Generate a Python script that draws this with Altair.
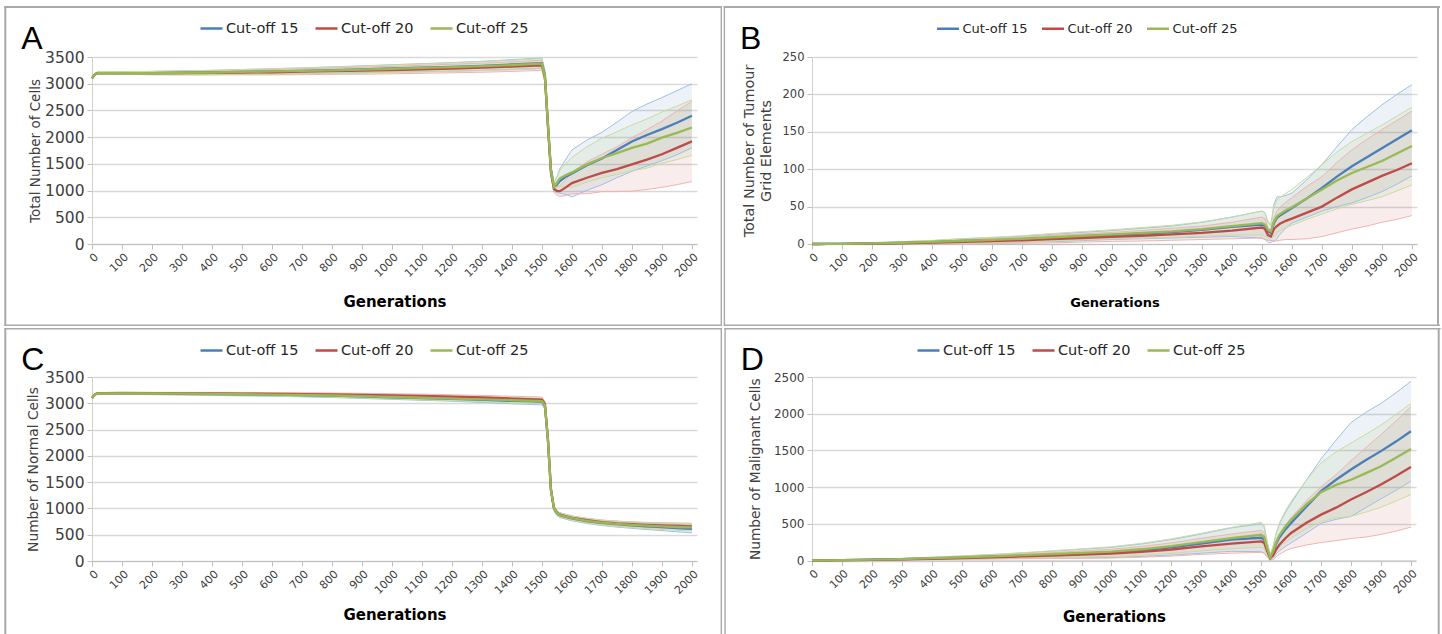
import altair as alt
import pandas as pd

# ---------------- data ----------------
GENS = [0, 10, 20, 50, 100, 200, 300, 400, 500, 600, 700, 800, 900, 1000, 1100,
        1200, 1300, 1400, 1500, 1510, 1520, 1530, 1540, 1550, 1560, 1580, 1600,
        1650, 1700, 1750, 1800, 1850, 1900, 1950, 2000]
SERIES = ["Cut-off 15", "Cut-off 20", "Cut-off 25"]
COLORS = ["#4A7EBB", "#BE4B48", "#98B954"]
LIGHTS = ["#9FC0E6", "#F0B4B2", "#C8DDA0"]
X_TICKS = list(range(0, 2001, 100))

# Panel A: total number of cells
A_C15 = [3100, 3180, 3200, 3200, 3200, 3200, 3205, 3210, 3220, 3230, 3240, 3255, 3270, 3285, 3300,
         3315, 3335, 3360, 3385, 3150, 2250, 1380, 1070, 1110, 1180, 1260, 1320,
         1475, 1600, 1760, 1920, 2040, 2150, 2270, 2400]
A_C20 = [3100, 3180, 3200, 3200, 3200, 3200, 3200, 3205, 3210, 3215, 3225, 3235, 3245, 3255, 3270,
         3285, 3300, 3320, 3345, 3120, 2200, 1350, 1030, 995, 990, 1060, 1140,
         1240, 1330, 1400, 1490, 1580, 1680, 1800, 1920]
A_C25 = [3100, 3180, 3200, 3200, 3200, 3200, 3205, 3210, 3220, 3230, 3240, 3250, 3265, 3280, 3295,
         3310, 3330, 3350, 3375, 3140, 2250, 1380, 1070, 1150, 1230, 1290, 1340,
         1490, 1610, 1700, 1800, 1880, 1990, 2080, 2180]
A_SD15 = [15, 20, 20, 20, 25, 30, 35, 40, 45, 50, 55, 60, 65, 70, 75, 80, 85, 90, 95, 100, 110, 90, 80,
          150, 230, 330, 440, 470, 490, 520, 560, 580, 590, 600, 600]
A_SD20 = [15, 20, 20, 20, 25, 30, 35, 40, 45, 50, 55, 60, 65, 70, 75, 80, 85, 90, 95, 100, 110, 90, 60,
          80, 100, 150, 200, 300, 350, 420, 500, 560, 620, 690, 750]
A_SD25 = [15, 20, 20, 20, 25, 30, 35, 40, 45, 50, 55, 60, 65, 70, 75, 80, 85, 90, 95, 100, 110, 90, 70,
          100, 150, 220, 280, 330, 370, 400, 430, 460, 480, 500, 520]

# Panel B: total number of tumour grid elements
B_C15 = [0, 0, 0, 0.1, 0.2, 0.7, 1.5, 2.5, 4, 5, 6.5, 8, 10, 12, 14, 16, 19, 23, 26, 24, 17, 15, 28,
         35, 38, 43, 48, 61, 75, 90, 104, 116, 128, 140, 152]
B_C20 = [0, 0, 0, 0.1, 0.2, 0.5, 1, 2, 3, 4, 5, 6.5, 8, 9.5, 11, 13, 15, 18, 22, 20, 12, 10, 20,
         24, 27, 31, 34, 42, 50, 62, 73, 82, 91, 99, 108]
B_C25 = [0, 0, 0, 0.1, 0.2, 0.8, 1.7, 2.8, 4.2, 5.5, 7, 9, 11, 13, 15, 17, 20, 24, 28, 26, 19, 17, 30,
         37, 40, 45, 49, 61, 73, 85, 95, 103, 111, 121, 131]
B_SD15 = [0, 0, 0, 0.2, 0.5, 1, 1.5, 2, 3, 3.5, 4, 5, 5.5, 6, 7, 8, 10, 13, 18, 18, 12, 10, 25,
          28, 25, 22, 20, 25, 31, 40, 49, 54, 58, 60, 61]
B_SD20 = [0, 0, 0, 0.2, 0.5, 1, 1.5, 2, 3, 3.5, 4, 5, 5.5, 6, 7, 8, 9, 11, 14, 14, 10, 8, 15,
          20, 22, 25, 28, 35, 40, 47, 53, 58, 62, 66, 70]
B_SD25 = [0, 0, 0, 0.2, 0.5, 1, 1.5, 2, 3, 3.5, 4, 5, 5.5, 6, 7, 8, 9.5, 12, 16, 16, 11, 9, 20,
          22, 22, 23, 24, 28, 33, 38, 42, 45, 48, 50, 52]

# Panel C: number of normal cells
C_C15 = [3100, 3170, 3190, 3190, 3190, 3185, 3180, 3175, 3170, 3165, 3155, 3145, 3130, 3115, 3100,
         3085, 3065, 3045, 3030, 2950, 2300, 1350, 1000, 910, 870, 840, 810,
         760, 725, 700, 680, 660, 645, 625, 610]
C_C20 = [3100, 3170, 3195, 3195, 3195, 3192, 3190, 3188, 3185, 3180, 3175, 3168, 3160, 3150, 3140,
         3125, 3110, 3090, 3070, 2990, 2320, 1370, 1010, 920, 880, 850, 820,
         775, 740, 715, 700, 685, 675, 668, 660]
C_C25 = [3100, 3170, 3190, 3190, 3190, 3186, 3182, 3178, 3172, 3166, 3158, 3148, 3135, 3120, 3105,
         3090, 3075, 3058, 3040, 2960, 2310, 1360, 1005, 915, 875, 845, 815,
         765, 730, 705, 688, 672, 658, 647, 638]
C_SD15 = [10, 15, 15, 15, 20, 20, 22, 25, 28, 30, 32, 35, 38, 40, 43, 46, 50, 55, 60, 60, 70, 60, 50,
          45, 45, 45, 45, 48, 50, 55, 58, 62, 66, 70, 75]
C_SD20 = [8, 12, 12, 12, 16, 16, 18, 20, 22, 24, 26, 28, 30, 32, 34, 37, 40, 44, 48, 48, 56, 48, 40,
          36, 36, 36, 36, 38, 40, 44, 46, 50, 53, 56, 60]
C_SD25 = [9, 13, 13, 13, 18, 18, 20, 22, 25, 27, 29, 31, 34, 36, 39, 41, 45, 50, 54, 54, 63, 54, 45,
          40, 40, 40, 40, 43, 45, 50, 52, 56, 59, 63, 68]

# Panel D: number of malignant cells
D_C15 = [0, 1, 2, 3, 5, 10, 18, 28, 40, 52, 65, 80, 95, 110, 140, 180, 230, 285, 310, 280, 150, 40,
         110, 230, 310, 420, 510, 730, 945, 1100, 1240, 1370, 1490, 1620, 1760]
D_C20 = [0, 1, 2, 3, 4, 8, 15, 23, 34, 44, 55, 67, 80, 93, 118, 150, 193, 230, 260, 240, 130, 30,
         70, 150, 210, 300, 375, 510, 625, 720, 830, 930, 1035, 1150, 1275]
D_C25 = [0, 1, 2, 3, 5, 11, 20, 31, 44, 57, 72, 88, 104, 121, 153, 196, 250, 305, 350, 320, 170, 40,
         130, 250, 340, 460, 556, 760, 930, 1030, 1100, 1190, 1285, 1400, 1520]
D_SD15 = [0, 0, 1, 2, 3, 6, 10, 15, 20, 28, 37, 47, 58, 70, 85, 105, 130, 160, 190, 180, 100, 40,
          80, 140, 180, 230, 270, 360, 440, 540, 640, 650, 650, 665, 680]
D_SD20 = [0, 0, 1, 2, 3, 5, 8, 12, 17, 24, 32, 40, 50, 60, 73, 90, 110, 130, 150, 140, 80, 30,
          60, 100, 130, 170, 210, 300, 380, 450, 530, 610, 680, 750, 820]
D_SD25 = [0, 0, 1, 2, 3, 6, 9, 14, 19, 26, 34, 44, 55, 66, 80, 98, 120, 145, 170, 160, 90, 35,
          70, 120, 160, 210, 250, 330, 400, 450, 500, 530, 560, 590, 620]

# ---------------- helpers ----------------
XMAX = 2017
FONT = "DejaVu Sans"
GRAY = "#404040"
BOX = "#a9a9a9"


def table(means, sds):
    rows = []
    for name, m, s in zip(SERIES, means, sds):
        for g, v, e in zip(GENS, m, s):
            rows.append({"gen": g, "series": name, "mean": v,
                         "lo": max(v - e, 0), "hi": v + e})
    return pd.DataFrame(rows)


ONE = pd.DataFrame({"k": [0]})


def frame_piece(x1, x2, y1, y2, visible=True):
    mk = (alt.Chart(ONE).mark_rect(fill=BOX, strokeOpacity=0) if visible
          else alt.Chart(ONE).mark_rect(fill="white", fillOpacity=0, strokeOpacity=0))
    return mk.encode(x=alt.value(x1), x2=alt.value(x2), y=alt.value(y1), y2=alt.value(y2))


def panel(df, p):
    W, H = p["W"], p["H"]
    xaxis = alt.Axis(values=X_TICKS, format="d", labelAngle=-45, labelFontSize=11, labelFont=FONT,
                     labelColor=GRAY, labelOverlap=False, labelFlush=False, labelPadding=2,
                     grid=False, tickSize=5, tickColor="#bfbfbf", domainColor="#bfbfbf",
                     domainWidth=1.2, title="Generations", titleFont=FONT,
                     titleFontSize=p["xts"], titleFontWeight="bold", titleColor="#000000",
                     titleX=W / 2, titleY=p["xty"], titleBaseline="middle", titleAlign="center")
    yaxis = alt.Axis(values=list(range(0, p["ymax"] + 1, p["ystep"])), format="d",
                     labelFontSize=p["yls"], labelFont=FONT, labelColor=GRAY, labelPadding=3,
                     labelFlush=False, grid=True, gridColor="#d9d9d9", gridWidth=1.5, tickSize=5,
                     tickColor="#bfbfbf", domainColor="#d0d0d0", domainWidth=1,
                     title=p["ytitle"], titleFont=FONT, titleFontSize=p["yts"],
                     titleFontWeight="normal", titleColor=GRAY, titleX=p["ytx"], titleY=H / 2,
                     titleBaseline="middle", titleAlign="center", titleLineHeight=17)
    xs = alt.Scale(domain=[0, XMAX], nice=False, zero=False)
    ysc = alt.Scale(domain=[0, p["ymax"]], nice=False)

    def X():
        return alt.X("gen:Q", scale=xs, axis=xaxis)

    def Y(f):
        return alt.Y(f + ":Q", scale=ysc, axis=yaxis)

    base = alt.Chart(df)
    l, r, t, b = p["tile"]
    layers = [frame_piece(l, r, t, b, visible=False)]
    for side in p["sides"]:
        x1, x2, y1, y2 = side
        layers.append(frame_piece(x1, x2, y1, y2))

    bands, caps = [], []
    for name, col, light in zip(SERIES, COLORS, LIGHTS):
        sub = base.transform_filter(alt.datum.series == name)
        bands.append(sub.mark_area(color=col, fillOpacity=0.1, clip=True)
                     .encode(x=X(), y=Y("lo"), y2="hi:Q"))
        caps.append(sub.mark_line(color=light, strokeWidth=1, clip=True)
                    .encode(x=X(), y=Y("hi")))
        caps.append(sub.mark_line(color=light, strokeWidth=1, clip=True)
                    .encode(x=X(), y=Y("lo")))

    lines = base.mark_line(strokeWidth=2.3).encode(
        x=X(), y=Y("mean"),
        color=alt.Color("series:N", scale=alt.Scale(domain=SERIES, range=COLORS),
                        legend=alt.Legend(orient="none", legendX=p["lx"], legendY=p["ly"],
                                          direction="horizontal", title=None,
                                          symbolType="stroke", symbolSize=484,
                                          symbolStrokeWidth=2.5, labelFont=FONT,
                                          labelFontSize=p["lfs"], labelColor="#262626",
                                          columnPadding=p["lcp"], labelOffset=2, padding=0)))
    letter = alt.Chart(ONE).mark_text(text=p["letter"], fontSize=32, font="Liberation Sans",
                                      align="left", baseline="alphabetic", color="#000000").encode(
        x=alt.value(p["letx"]), y=alt.value(p["lety"]))
    layers += bands + caps + [lines, letter]
    return alt.layer(*layers).properties(width=W, height=H)


# tiles (relative to each plot origin) and border strips
PA = dict(W=605, H=187, ymax=3500, ystep=500, ytitle="Total Number of Cells",
          tile=(-87.7, 630, -51, 269),
          sides=[(-87.7, -85.7, -51, 269), (-87.7, 630, -51, -49),
                 (628.6, 630, -51, 269), (-87.7, 630, 267.6, 269)],
          lx=107, ly=-41, lfs=14.5, lcp=11,
          yls=15.5, yts=13.5, ytx=-57, xty=57, xts=15, letter="A", letx=-70.7, lety=-8)
PB = dict(W=605, H=187, ymax=250, ystep=50,
          ytitle=["Total Number of Tumour", "Grid Elements"],
          tile=(-88.3, 628, -51, 269),
          sides=[(-88.3, -86.9, -51, 269), (-88.3, 628, -51, -49),
                 (625, 627, -51, 269), (-88.3, 628, 267.6, 269)],
          lx=123.5, ly=-41, lfs=13, lcp=9,
          yls=11.5, yts=14.4, ytx=-62.5, xty=58, xts=13, letter="B", letx=-72, lety=-8)
PC = dict(W=605, H=184, ymax=3500, ystep=500, ytitle="Number of Normal Cells",
          tile=(-87.7, 630, -49, 258),
          sides=[(-87.7, -85.7, -49, 258), (-87.7, 630, -49, -47.6),
                 (628.6, 630, -49, 258)],
          lx=107, ly=-39, lfs=14.5, lcp=11,
          yls=15.5, yts=13.8, ytx=-58.5, xty=53.5, xts=15, letter="C", letx=-70.7, lety=-7)
PD = dict(W=604, H=183.5, ymax=2500, ystep=500, ytitle="Number of Malignant Cells",
          tile=(-87.6, 628.7, -49, 258),
          sides=[(-87.6, -86.2, -49, 258), (-87.6, 628.7, -49, -47.6),
                 (625.7, 627.7, -49, 258)],
          lx=104, ly=-39, lfs=14.5, lcp=11,
          yls=12, yts=13.7, ytx=-57, xty=56, xts=15, letter="D", letx=-71.3, lety=-7)

pA = panel(table([A_C15, A_C20, A_C25], [A_SD15, A_SD20, A_SD25]), PA)
pB = panel(table([B_C15, B_C20, B_C25], [B_SD15, B_SD20, B_SD25]), PB)
pC = panel(table([C_C15, C_C20, C_C25], [C_SD15, C_SD20, C_SD25]), PC)
pD = panel(table([D_C15, D_C20, D_C25], [D_SD15, D_SD20, D_SD25]), PD)

row1 = alt.hconcat(pA, pB, spacing=0).resolve_scale(color="independent")
row2 = alt.hconcat(pC, pD, spacing=0).resolve_scale(color="independent")
chart = (alt.vconcat(row1, row2, spacing=0).resolve_scale(color="independent")
         .properties(padding={"left": 3, "top": 5, "right": 0, "bottom": 0}, background="white")
         .configure_view(stroke="transparent"))

chart.save("out.html", embed_options={"renderer": "svg", "actions": False})
